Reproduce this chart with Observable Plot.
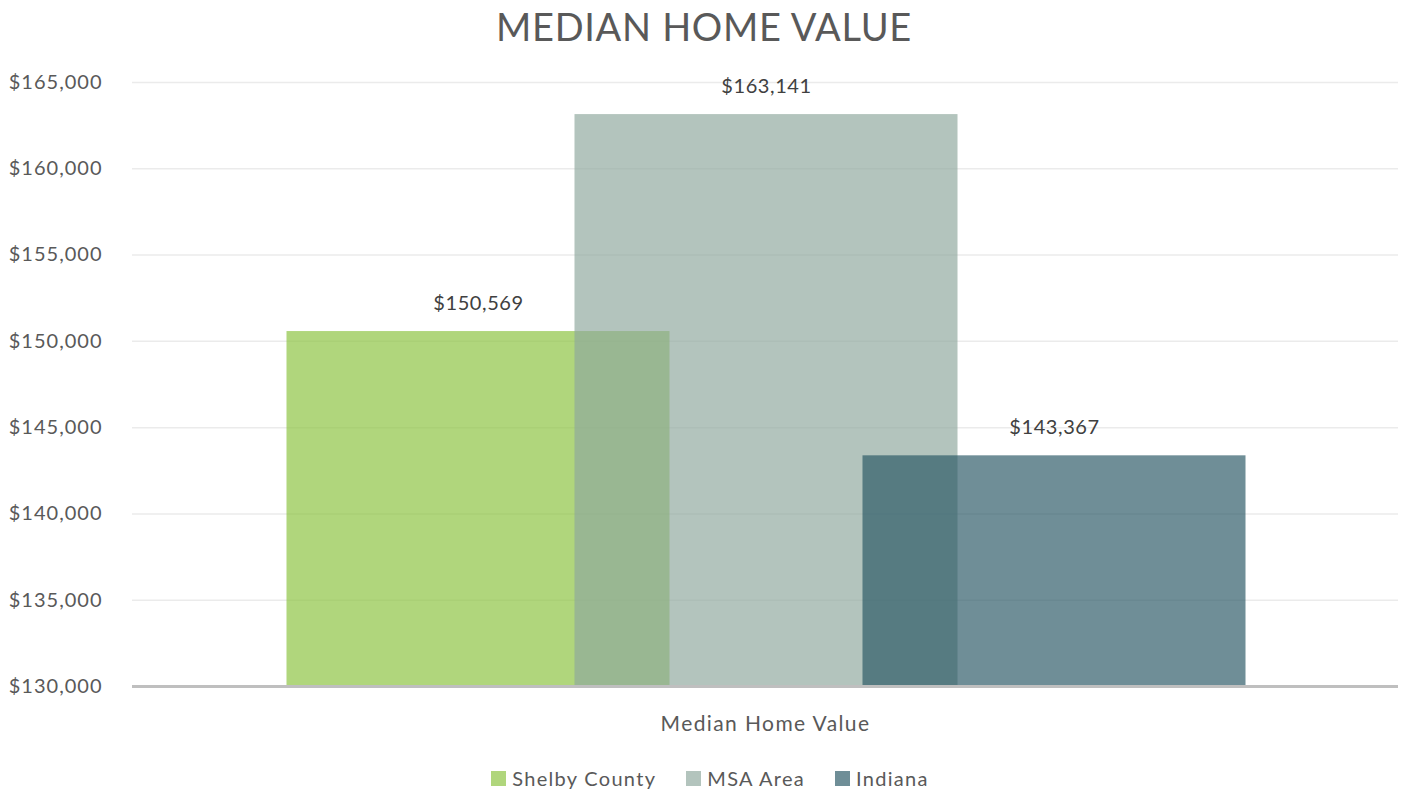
<!DOCTYPE html>
<html>
<head>
<meta charset="utf-8">
<script src="https://cdn.jsdelivr.net/npm/d3@7"></script>
<script src="https://cdn.jsdelivr.net/npm/@observablehq/plot@0.6"></script>
<style>
  body { margin: 0; background: #fff; font-family: Lato, "Open Sans", sans-serif; }
  #title { height: 50px; line-height: 52px; text-align: center; font-size: 38px; color: #595959; letter-spacing: 0.7px; }
  #legend { display: flex; justify-content: center; align-items: center; margin-top: 16px; font-size: 20px; color: #595959; letter-spacing: 1.3px; padding-left: 12px; }
  .item { display: flex; align-items: center; margin: 0 15px; }
  .sw { width: 15px; height: 15px; margin-right: 6px; }
  svg g[aria-label="y-axis tick label"] text { letter-spacing: 1px; }
  svg .vlabel text { letter-spacing: 0.6px; }
  svg .xlabel text { letter-spacing: 1.4px; }
</style>
</head>
<body>
<div id="title">MEDIAN HOME VALUE</div>
<div id="chart"></div>
<div id="legend"></div>
<script>
const categoryLabel = "Median Home Value";
const series = ["Shelby County", "MSA Area", "Indiana"];
const values = [150569, 163141, 143367];
const baseColors = ["#89c23c", "#8ea79d", "#285764"];
const swatchColors = ["#b0d67c", "#b3c4bd", "#6f8e97"];
const yTicks = [130000, 135000, 140000, 145000, 150000, 155000, 160000, 165000];

const data = series.map((s, i) => ({ series: s, value: values[i], base: 130000 }));
const fmt = d3.format("$,");

const chart = Plot.plot({
  width: 1408,
  height: 700,
  marginLeft: 132,
  marginRight: 10,
  marginTop: 32,
  marginBottom: 64,
  style: { fontFamily: "Lato, 'Open Sans', sans-serif", fontSize: "20px", color: "#595959", background: "#fff" },
  x: { type: "band", domain: series, range: [333.5, 1197.5], padding: 0, axis: null },
  y: { domain: [130000, 165000], ticks: yTicks, tickFormat: fmt, tickSize: 0, tickPadding: 30, label: null },
  color: { domain: series, range: baseColors },
  marks: [
    Plot.ruleY(yTicks.slice(1), { stroke: "#ebebeb", strokeWidth: 1.5 }),
    Plot.rectY(data, { x: "series", y1: "base", y2: "value", fill: "series", fillOpacity: 0.67, insetLeft: -47.5, insetRight: -47.5 }),
    Plot.ruleY([130000], { stroke: "#bfbfbf", strokeWidth: 3 }),
    Plot.text(data, { x: "series", y: "value", text: d => fmt(d.value), dy: -28, fill: "#404040", fontSize: 20, className: "vlabel" }),
    Plot.text([categoryLabel], { frameAnchor: "bottom", dy: 44, fill: "#595959", fontSize: 21, className: "xlabel" })
  ]
});
document.getElementById("chart").appendChild(chart);

const legend = document.getElementById("legend");
series.forEach((s, i) => {
  const item = document.createElement("div");
  item.className = "item";
  const sw = document.createElement("div");
  sw.className = "sw";
  sw.style.background = swatchColors[i];
  const label = document.createElement("span");
  label.textContent = s;
  item.appendChild(sw);
  item.appendChild(label);
  legend.appendChild(item);
});
</script>
</body>
</html>
